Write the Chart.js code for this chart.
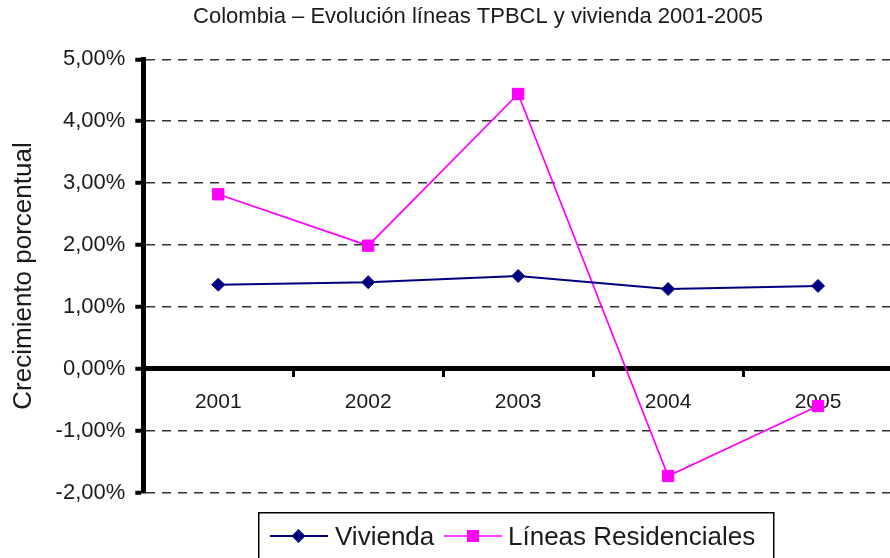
<!DOCTYPE html>
<html>
<head>
<meta charset="utf-8">
<script src="https://cdn.jsdelivr.net/npm/chart.js@4.4.1/dist/chart.umd.min.js"></script>
<style>
  html, body { margin: 0; padding: 0; background: #fff; overflow: hidden; }
  #wrap { width: 890px; height: 558px; position: relative; overflow: hidden; }
  #c { display: block; }
</style>
</head>
<body>
<div id="wrap"><canvas id="c" width="893" height="558"></canvas></div>
<script>
// ---- data ----
const chartTitle = 'Colombia – Evolución líneas TPBCL y vivienda 2001-2005';
const yAxisTitle = 'Crecimiento porcentual';
const categories = ['2001', '2002', '2003', '2004', '2005'];
const seriesNames = ['Vivienda', 'Líneas Residenciales'];
const vivienda = [1.36, 1.40, 1.50, 1.29, 1.34];
const lineasResidenciales = [2.82, 1.99, 4.44, -1.73, -0.60];
const yMin = -2, yMax = 5, yStep = 1;

const FONT = "'Liberation Sans', Arial, Helvetica, sans-serif";
const TEXT = '#1a1a1a';

const titlePlugin = {
  id: 'customTitle',
  afterDraw(chart) {
    const ctx = chart.ctx;
    ctx.save();
    ctx.font = '22px ' + FONT;
    ctx.fillStyle = TEXT;
    ctx.textAlign = 'center';
    ctx.textBaseline = 'alphabetic';
    ctx.fillText(chartTitle, 478, 23);
    ctx.restore();
  }
};

const legendPlugin = {
  id: 'customLegend',
  afterDraw(chart) {
    const ctx = chart.ctx;
    ctx.save();
    ctx.fillStyle = '#fff';
    ctx.fillRect(259, 513, 514, 50);
    ctx.strokeStyle = '#000';
    ctx.lineWidth = 1.5;
    ctx.strokeRect(258.75, 512.75, 515, 60);
    const cy = 536;
    const items = [
      { x1: 270, x2: 328, mx: 298.5, tx: 335 },
      { x1: 444, x2: 502, mx: 473, tx: 508 }
    ];
    chart.data.datasets.forEach((ds, i) => {
      const it = items[i];
      ctx.strokeStyle = ds.borderColor;
      ctx.lineWidth = ds.borderWidth;
      ctx.beginPath();
      ctx.moveTo(it.x1, cy);
      ctx.lineTo(it.x2, cy);
      ctx.stroke();
      ctx.fillStyle = ds.pointBackgroundColor;
      ctx.beginPath();
      if (ds.pointStyle === 'rectRot') {
        const r = 7;
        ctx.moveTo(it.mx, cy - r);
        ctx.lineTo(it.mx + r, cy);
        ctx.lineTo(it.mx, cy + r);
        ctx.lineTo(it.mx - r, cy);
        ctx.closePath();
      } else {
        ctx.rect(it.mx - 6, cy - 6, 12, 12);
      }
      ctx.fill();
      ctx.fillStyle = TEXT;
      ctx.font = '26px ' + FONT;
      ctx.textAlign = 'left';
      ctx.textBaseline = 'alphabetic';
      ctx.fillText(ds.label, it.tx, 545);
    });
    ctx.restore();
  }
};

new Chart(document.getElementById('c'), {
  type: 'line',
  data: {
    labels: categories,
    datasets: [
      {
        label: seriesNames[0],
        data: vivienda,
        borderColor: '#000080',
        backgroundColor: '#000080',
        borderWidth: 2,
        pointStyle: 'rectRot',
        pointRadius: 6.5,
        pointBorderWidth: 1,
        pointBackgroundColor: '#000080',
        pointBorderColor: '#000080',
        tension: 0
      },
      {
        label: seriesNames[1],
        data: lineasResidenciales,
        borderColor: '#ff00ff',
        backgroundColor: '#ff00ff',
        borderWidth: 1.7,
        pointStyle: 'rect',
        pointRadius: 8,
        pointBorderWidth: 1,
        pointBackgroundColor: '#ff00ff',
        pointBorderColor: '#ff00ff',
        tension: 0
      }
    ]
  },
  options: {
    responsive: false,
    devicePixelRatio: 1,
    animation: false,
    layout: { autoPadding: false, padding: { top: 59.3, bottom: 65.3, left: 0, right: 0 } },
    plugins: {
      legend: { display: false },
      title: { display: false },
      tooltip: { enabled: false }
    },
    scales: {
      x: {
        type: 'category',
        offset: true,
        position: { y: 0 },
        afterFit(scale) { scale.paddingLeft = 0; scale.paddingRight = 0; },
        grid: {
          display: true,
          offset: true,
          drawOnChartArea: false,
          drawTicks: true,
          tickLength: 6,
          tickWidth: 3,
          tickColor: '#000',
          color: '#000'
        },
        border: { display: true, color: '#000', width: 5 },
        ticks: {
          padding: 15,
          color: TEXT,
          font: { family: FONT, size: 21 },
          maxRotation: 0,
          autoSkip: false
        }
      },
      y: {
        type: 'linear',
        position: 'left',
        min: yMin,
        max: yMax,
        afterFit(scale) { scale.width = 143.3; },
        grid: {
          color: '#333',
          lineWidth: 1.5,
          drawTicks: true,
          tickLength: 8,
          tickWidth: 4,
          tickColor: '#000',
          tickBorderDash: []
        },
        border: { display: true, color: '#000', width: 5, dash: [9, 7] },
        ticks: {
          stepSize: yStep,
          padding: 10,
          color: TEXT,
          font: { family: FONT, size: 22 },
          callback: (v) => v.toFixed(2).replace('.', ',') + '%'
        },
        title: {
          display: true,
          text: yAxisTitle,
          color: TEXT,
          font: { family: FONT, size: 26 },
          padding: { top: 8, bottom: 0 }
        }
      }
    }
  },
  plugins: [titlePlugin, legendPlugin]
});
</script>
</body>
</html>
